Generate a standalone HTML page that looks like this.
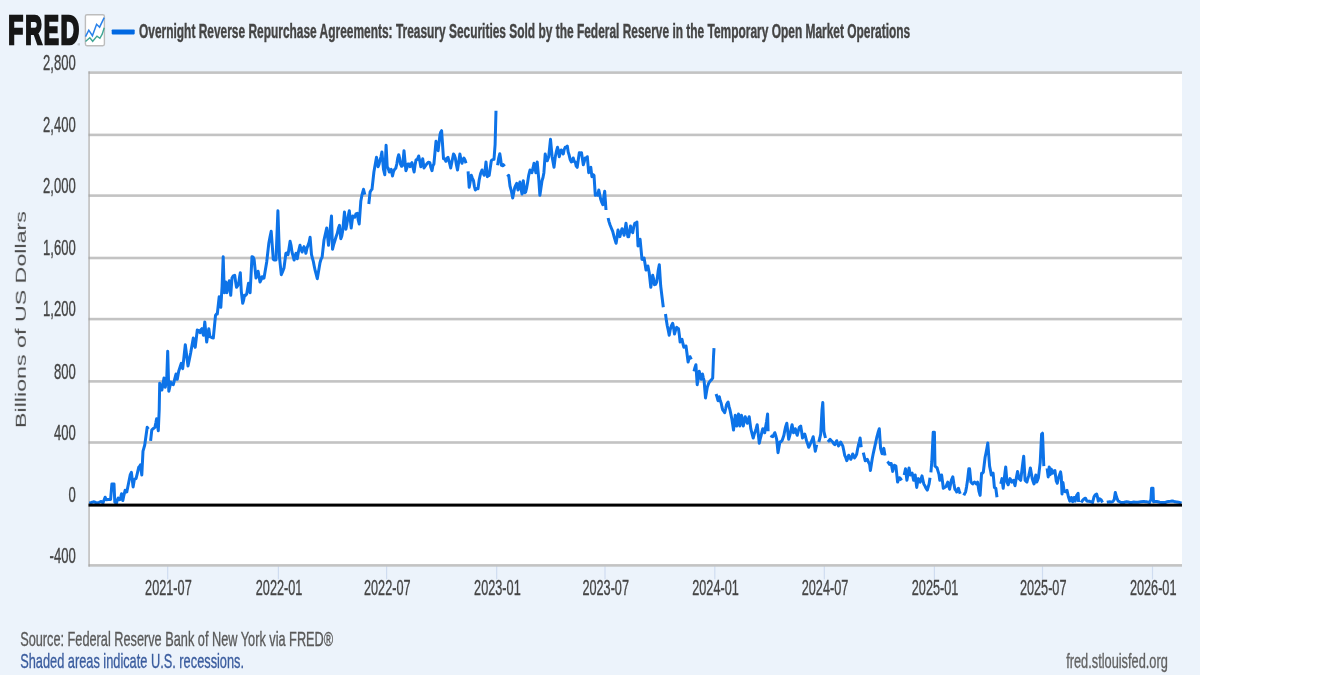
<!DOCTYPE html>
<html lang="en"><head><meta charset="utf-8"><title>FRED Graph</title>
<style>html,body{margin:0;padding:0;background:#fff;}svg{display:block}text{font-family:"Liberation Sans",Arial,sans-serif;}</style>
</head><body>
<svg width="1320" height="675" viewBox="0 0 1320 675">
<rect x="0" y="0" width="1200" height="675" fill="#ecf3fb"/>
<defs><filter id="soft" x="0" y="0" width="1320" height="675" filterUnits="userSpaceOnUse"><feGaussianBlur stdDeviation="0.4"/></filter></defs>
<g filter="url(#soft)">
<rect x="88.5" y="72.6" width="1093.5" height="492.79999999999995" fill="#ffffff"/>
<rect x="167.1" y="566" width="1.2" height="13.3" fill="#cfdcf0"/>
<rect x="277.8" y="566" width="1.2" height="13.3" fill="#cfdcf0"/>
<rect x="386.0" y="566" width="1.2" height="13.3" fill="#cfdcf0"/>
<rect x="496.1" y="566" width="1.2" height="13.3" fill="#cfdcf0"/>
<rect x="604.4" y="566" width="1.2" height="13.3" fill="#cfdcf0"/>
<rect x="714.2" y="566" width="1.2" height="13.3" fill="#cfdcf0"/>
<rect x="823.7" y="566" width="1.2" height="13.3" fill="#cfdcf0"/>
<rect x="933.8" y="566" width="1.2" height="13.3" fill="#cfdcf0"/>
<rect x="1041.9" y="566" width="1.2" height="13.3" fill="#cfdcf0"/>
<rect x="1151.9" y="566" width="1.2" height="13.3" fill="#cfdcf0"/>
<rect x="88.5" y="71.3" width="1093.5" height="2.6" fill="#c3c3c3"/>
<rect x="88.5" y="133.6" width="1093.5" height="2.6" fill="#c3c3c3"/>
<rect x="88.5" y="194.3" width="1093.5" height="2.6" fill="#c3c3c3"/>
<rect x="88.5" y="256.7" width="1093.5" height="2.6" fill="#c3c3c3"/>
<rect x="88.5" y="317.8" width="1093.5" height="2.6" fill="#c3c3c3"/>
<rect x="88.5" y="380.1" width="1093.5" height="2.6" fill="#c3c3c3"/>
<rect x="88.5" y="441.2" width="1093.5" height="2.6" fill="#c3c3c3"/>
<rect x="88.5" y="564.1" width="1093.5" height="2.6" fill="#c3c3c3"/>
<rect x="88.5" y="71.4" width="1.1" height="495.2" fill="#a2a2a2"/>
<path d="M89.3 503.1 L91.4 502.5 L93.5 501.8 L95.2 502.3 L96.9 503.1 L99.1 502.3 L101.2 501.4 L102.1 502.0 L102.9 503.1 L104.0 500.2 L105.1 497.2 L106.3 499.7 L108.4 499.5 L110.6 499.4 L111.9 483.9 L113.0 484.0 L114.0 483.9 L114.8 502.3 L115.7 502.6 L116.5 503.1 L117.3 500.4 L118.2 498.0 L119.1 498.8 L119.9 499.7 L120.8 496.9 L121.6 493.7 L122.8 500.6 L123.9 495.3 L125.1 490.3 L125.9 491.0 L126.8 492.0 L130.2 475.0 L131.4 472.4 L133.1 486.9 L134.4 479.3 L135.2 479.0 L136.1 478.4 L137.4 473.1 L138.7 467.3 L139.6 466.4 L140.4 464.8 L141.8 475.0 L143.0 451.1 L143.8 448.4 L144.7 445.2 L147.2 427.3 L148.4 429.0 M150.6 440.9 L151.8 429.8 L153.4 428.5 L154.9 427.3 L155.8 423.0 L156.6 418.7 L157.4 424.8 L158.3 430.7 L159.2 410.0 L159.7 383.3 L160.8 386.3 L161.9 390.0 L162.9 384.3 L164.0 378.0 L165.3 387.3 L166.7 379.3 L167.7 351.3 L168.8 391.3 L169.8 387.0 L170.7 382.0 L172.0 384.1 L173.3 384.7 L174.7 379.1 L176.0 374.0 L177.3 379.3 L178.7 371.3 L180.0 367.2 L181.3 363.3 L182.7 368.7 L185.3 344.7 L188.0 366.0 L189.3 359.7 L190.7 352.7 L193.3 338.0 L194.2 343.1 L195.2 347.3 L197.3 330.0 L198.7 330.7 L200.0 332.7 L200.9 329.8 L201.9 328.7 L202.7 332.5 L203.5 335.3 L204.8 322.0 L206.7 342.0 L207.8 334.5 L208.8 328.7 L209.9 336.7 L211.6 337.5 L213.3 338.0 L215.5 315.3 L216.4 314.1 L217.3 314.0 L219.2 296.7 L220.0 302.1 L220.8 307.3 L222.1 286.0 L223.2 256.7 L224.3 292.7 L225.1 287.4 L225.9 282.0 L226.9 292.7 L228.1 286.5 L229.3 280.7 L230.7 295.3 L232.0 278.0 L233.3 275.9 L234.7 275.3 L235.6 281.6 L236.5 287.3 L237.6 285.8 L238.7 283.3 L239.5 277.5 L240.3 272.7 L241.3 291.3 L242.7 303.3 L243.6 300.3 L244.5 295.3 L245.6 295.4 L246.7 294.0 L247.6 288.4 L248.5 283.3 L249.3 288.5 L250.1 292.7 L252.0 256.7 L253.1 257.1 L254.1 259.3 L256.0 278.0 L257.1 274.9 L258.1 271.3 L259.1 276.8 L260.0 282.0 L261.1 279.8 L262.1 276.7 L263.1 278.3 L264.0 278.0 L266.7 262.0 L268.8 243.3 L270.0 237.0 L271.2 231.3 L273.3 259.3 L274.6 260.1 L276.0 259.3 L276.0 260.0 L277.9 210.7 L279.5 257.3 L281.3 274.7 L282.6 271.6 L284.0 268.0 L285.9 253.3 L286.9 252.8 L288.0 254.7 L289.1 247.7 L290.1 241.3 L291.1 245.6 L292.0 252.0 L293.1 256.2 L294.1 260.0 L295.1 256.3 L296.0 253.3 L297.3 258.7 L298.6 251.1 L300.0 245.3 L301.1 249.4 L302.1 252.0 L303.1 248.2 L304.0 246.7 L304.9 248.9 L305.9 253.3 L306.9 248.5 L308.0 245.3 L309.1 242.4 L310.1 237.3 L311.5 254.7 L312.4 258.1 L313.3 261.3 L314.2 266.0 L315.2 270.7 L316.2 274.4 L317.3 278.7 L320.0 262.7 L321.1 259.0 L322.1 257.3 L324.0 240.0 L325.4 233.9 L326.7 228.0 L328.5 245.3 L329.9 232.0 L331.5 216.0 L332.5 249.3 L333.6 244.8 L334.7 241.3 L336.0 237.0 L337.3 233.3 L338.4 228.3 L339.5 225.3 L340.8 238.7 L341.8 235.9 L342.7 230.7 L344.5 212.0 L345.9 229.3 L346.9 224.1 L348.0 217.3 L349.3 210.7 L351.2 228.0 L352.0 221.8 L352.8 216.0 L353.8 216.8 L354.7 217.3 L356.0 213.9 L357.3 213.3 L358.2 219.9 L359.2 224.0 L360.8 201.3 L362.1 194.3 L363.5 189.3 L364.8 194.7 M368.8 204.0 L370.1 192.0 L371.1 190.2 L372.0 189.3 L373.9 172.0 L376.5 157.3 L377.3 162.8 L378.1 166.7 L379.1 164.1 L380.0 160.0 L380.9 157.1 L381.9 152.0 L383.5 169.3 L384.8 174.7 L386.1 145.3 L387.2 166.7 L388.2 168.3 L389.3 172.0 L390.2 171.3 L391.2 169.3 L392.5 176.0 L393.6 171.2 L394.7 169.3 L395.8 168.2 L396.8 164.0 L397.8 157.8 L398.7 154.7 L399.6 158.2 L400.5 164.0 L401.6 166.3 L402.7 165.3 L404.0 150.7 L405.9 170.7 L406.9 167.9 L408.0 164.0 L409.1 163.9 L410.1 166.7 L411.1 163.9 L412.0 162.7 L413.1 167.8 L414.1 172.0 L415.1 164.9 L416.0 160.0 L417.4 159.4 L418.7 156.0 L419.8 161.1 L420.8 166.7 L421.8 163.9 L422.7 158.7 L424.0 168.0 L425.4 166.0 L426.7 164.0 L428.3 162.2 L429.9 162.7 L430.9 167.6 L432.0 170.7 L432.9 165.7 L433.9 164.0 L436.0 141.3 L437.1 147.0 L438.1 150.7 L440.0 134.7 L440.8 132.0 L441.6 130.7 L443.5 158.7 L444.7 158.8 L445.9 161.3 L446.9 158.4 L448.0 157.3 L449.4 162.5 L450.7 168.0 L453.5 154.0 L454.4 155.1 L455.3 158.0 L456.4 164.8 L457.5 170.0 L459.9 154.0 L460.9 159.4 L462.0 163.3 L462.9 159.9 L463.9 158.0 L464.9 159.7 L466.0 163.3 M468.1 171.3 L469.2 187.3 L470.2 181.8 L471.3 175.3 L472.4 178.3 L473.5 180.7 L474.4 186.5 L475.3 190.0 L476.6 188.5 L478.0 188.7 L479.3 179.3 L480.6 173.5 L482.0 170.0 L483.1 172.8 L484.1 175.3 L485.1 170.2 L486.0 162.0 L487.3 176.7 L488.2 175.8 L489.2 175.3 L491.3 160.7 L492.6 159.6 L494.0 159.3 L495.1 144.7 L496.0 110.8 M497.6 165.2 L498.7 158.0 L499.8 153.7 L500.6 158.7 L501.4 165.2 L502.4 165.7 L503.3 164.7 L504.7 166.3 M507.3 176.7 L508.7 175.3 L510.0 186.0 L511.4 191.2 L512.7 198.0 L513.8 192.2 L514.8 187.3 L515.8 185.1 L516.7 183.3 L518.0 190.0 L519.0 185.6 L519.9 182.0 L521.0 188.9 L522.0 194.0 L523.3 180.7 L524.7 192.7 L525.6 192.0 L526.5 188.7 L527.6 182.4 L528.7 175.3 L530.0 170.0 L531.0 171.3 L531.9 172.7 L533.0 168.2 L534.0 163.3 L535.0 168.4 L535.9 172.7 L537.2 162.0 L538.8 179.3 L539.9 195.3 L542.0 180.7 L543.0 177.5 L543.9 172.7 L545.2 154.0 L546.2 158.7 L547.3 160.7 L548.7 156.7 L550.5 139.3 L552.1 156.7 L553.0 161.7 L554.0 167.3 L555.3 156.7 L556.4 151.5 L557.5 147.3 L558.4 150.5 L559.3 156.7 L560.2 153.1 L561.2 150.0 L562.2 151.8 L563.3 154.0 L564.2 149.5 L565.2 147.3 L566.2 147.2 L567.3 146.0 L568.2 152.1 L569.2 155.3 L570.2 159.6 L571.3 162.0 L572.2 161.5 L573.2 158.0 L574.2 161.4 L575.3 162.0 L576.2 166.1 L577.2 167.3 L579.3 152.7 L580.4 153.2 L581.5 152.7 L582.4 158.7 L583.3 164.7 L584.2 161.8 L585.2 158.0 L586.2 158.9 L587.3 156.7 L588.7 172.7 L589.8 168.6 L590.8 167.3 L591.9 176.7 L593.0 174.5 L594.0 175.3 L595.3 195.3 L596.4 194.7 L597.5 195.3 L598.8 190.0 L599.8 195.0 L600.7 199.3 L601.8 202.4 L602.8 204.7 L603.8 196.9 L604.7 191.3 L606.0 210.0 M608.1 218.0 L609.0 221.6 L610.0 224.7 L611.4 228.2 L612.7 231.3 L614.4 237.9 L616.1 243.3 L617.0 237.7 L618.0 230.0 L619.0 234.2 L619.9 236.7 L621.0 232.1 L622.0 228.7 L623.0 230.9 L624.1 235.3 L625.0 230.0 L626.0 223.3 L627.0 231.2 L627.9 236.7 L628.7 236.7 L629.6 231.6 L630.5 226.0 L631.6 230.5 L632.7 232.7 L633.8 226.7 L634.8 223.3 L635.8 223.3 L636.9 222.0 L638.0 246.0 L639.0 243.0 L640.1 239.3 L642.0 259.3 L643.0 259.5 L644.1 258.0 L645.0 263.6 L646.0 270.0 L647.0 268.7 L647.9 266.0 L649.2 272.7 L650.8 287.3 L651.8 280.7 L652.7 275.3 L653.6 278.9 L654.5 284.7 L655.6 284.3 L656.7 282.0 L657.5 276.4 L658.3 270.0 L659.3 264.7 L660.7 286.0 L662.0 296.7 L663.3 307.3 M665.5 314.0 L666.4 320.6 L667.3 326.0 L668.2 329.9 L669.2 335.3 L670.2 329.8 L671.3 326.0 L672.7 323.3 L673.6 327.7 L674.5 334.0 L675.6 330.2 L676.7 327.3 L677.6 328.3 L678.5 328.7 L679.3 334.6 L680.1 342.0 L681.0 340.6 L682.0 339.3 L683.0 344.0 L683.9 347.3 L685.0 346.2 L686.0 346.0 L688.1 362.0 L689.0 358.6 L690.0 356.7 L691.3 359.3 M694.0 371.3 L695.0 367.4 L695.9 364.7 L697.2 384.7 L698.2 378.4 L699.3 371.3 L700.2 376.0 L701.2 379.3 L702.5 374.0 L703.3 377.8 L704.1 380.7 L705.5 398.0 L706.4 392.6 L707.3 387.3 L708.7 383.3 L709.6 381.7 L710.5 380.7 L711.6 379.7 L712.7 378.0 L713.5 356.7 L714.0 348.1 M716.1 394.0 L717.0 396.9 L718.0 400.7 L719.3 396.7 L720.2 400.5 L721.2 403.3 L722.0 407.3 L722.8 410.0 L723.8 411.2 L724.7 412.7 L725.6 409.0 L726.5 404.7 L727.3 403.2 L728.1 402.0 L729.0 406.4 L730.0 410.0 L731.0 414.9 L731.9 419.3 L732.7 424.6 L733.5 430.0 L735.3 415.3 L736.7 426.0 L737.6 419.5 L738.5 414.0 L739.9 426.0 L740.7 421.1 L741.5 415.3 L742.4 421.1 L743.3 426.0 L744.2 421.1 L745.2 416.7 L746.2 419.7 L747.3 423.3 L748.2 420.3 L749.2 416.7 L750.0 422.6 L750.8 428.7 L752.0 433.5 L753.2 438.0 L754.2 434.3 L755.3 431.3 L756.2 428.5 L757.2 424.7 L759.3 443.3 L760.2 438.9 L761.2 435.3 L762.0 431.6 L762.8 428.7 L763.8 431.0 L764.7 432.7 L765.6 427.1 L766.5 422.0 L767.6 414.0 L768.1 431.3 M770.8 435.3 L771.8 436.4 L772.7 436.7 L773.8 434.7 L774.8 432.7 L775.8 435.8 L776.7 439.3 L778.0 452.7 L779.0 447.0 L779.9 442.0 L781.0 441.6 L782.0 440.7 L783.0 437.9 L783.9 435.3 L784.7 431.1 L785.5 427.3 L786.8 423.3 L788.7 439.3 L789.6 436.2 L790.5 432.7 L791.3 428.2 L792.1 424.7 L793.5 432.7 L794.4 431.1 L795.3 428.7 L796.2 432.4 L797.2 435.3 L798.2 431.4 L799.3 427.3 L800.7 426.0 L801.6 431.6 L802.5 438.0 L803.6 436.3 L804.7 434.0 L805.6 437.0 L806.5 440.7 L807.6 443.8 L808.7 447.3 L809.6 445.6 L810.5 443.3 L811.9 440.4 L813.2 436.7 L815.3 451.3 L816.7 444.7 M818.8 442.0 L819.8 438.2 L820.7 434.0 L822.0 410.0 L822.8 402.5 L823.9 431.3 L824.7 434.8 L825.5 438.0 M827.9 442.0 L829.0 440.6 L830.0 439.3 L831.4 440.8 L832.7 442.0 L833.8 443.8 L834.8 444.7 L835.8 442.5 L836.7 440.7 L837.6 443.4 L838.5 446.0 L839.6 444.3 L840.7 442.0 L841.8 444.3 L842.8 446.0 L843.8 450.7 L844.7 455.3 L845.8 457.7 L846.8 460.7 L847.8 458.2 L848.7 455.3 L849.8 457.3 L850.8 459.3 L851.8 457.1 L852.7 454.0 L853.6 455.9 L854.5 458.0 L855.6 456.4 L856.7 454.0 L857.6 449.1 L858.5 444.7 L859.3 441.8 L860.1 438.0 L861.2 447.3 M863.3 452.7 L864.2 456.3 L865.2 460.7 L866.2 460.4 L867.3 459.3 L868.7 462.6 L869.6 464.3 L870.4 470.6 L871.3 464.8 L872.2 459.0 L873.1 454.2 L874.0 450.1 L875.4 443.8 L876.7 437.7 L878.0 432.8 L879.3 428.8 L880.6 448.3 L882.0 453.7 L882.9 450.8 L883.8 448.3 L885.0 455.4 M887.3 461.7 L888.4 462.7 L889.5 464.3 L890.4 463.5 L891.2 463.4 L892.7 471.4 L893.5 468.0 L894.4 465.2 L895.9 466.1 L897.6 482.1 L898.5 480.0 L899.4 477.7 L900.5 478.7 L901.6 480.3 M904.2 475.0 L905.5 468.8 L906.9 480.3 L908.0 473.9 L909.0 467.9 L910.4 475.0 L911.3 474.0 L912.2 473.2 L913.6 480.3 L914.4 477.9 L915.2 475.0 L916.7 487.4 L917.5 482.7 L918.4 478.6 L919.3 480.3 L920.2 482.1 L921.1 478.9 L922.0 475.9 L922.9 480.0 L923.8 483.9 L924.7 485.4 L925.6 487.4 L926.5 488.9 L927.3 490.1 L928.2 487.0 L929.1 483.9 L930.0 477.7 M930.9 472.3 L931.8 461.7 L933.2 432.3 L934.4 432.3 L935.0 466.1 L936.0 467.0 L937.1 467.9 L938.0 471.1 L938.9 474.1 L939.8 480.3 L940.7 477.3 L941.6 475.0 L942.5 481.5 L943.3 488.3 L944.6 487.5 L946.0 486.6 L946.9 484.3 L947.8 482.1 L948.7 485.9 L949.6 489.2 L950.5 484.6 L951.3 480.3 L952.8 476.8 L953.8 483.3 L954.9 489.2 L955.8 490.3 L956.7 491.9 L957.5 490.0 L958.4 488.3 L959.3 491.2 L960.2 493.7 M963.8 495.4 L964.7 493.5 L965.6 491.9 L966.5 487.1 L967.3 482.1 L968.8 468.8 L969.6 468.8 L970.9 482.1 L971.8 483.1 L972.7 483.9 L973.5 482.9 L974.4 482.1 L975.3 482.7 L976.2 483.9 L977.6 482.1 L978.9 491.0 L980.1 495.4 L981.6 473.2 L982.5 473.1 L983.3 472.3 L985.1 457.2 L986.0 453.0 L986.9 448.3 L987.8 443.0 L989.6 466.1 L990.5 470.5 L991.3 475.0 L992.2 474.3 L993.1 473.2 L994.4 487.4 L995.8 488.3 L997.0 497.2 M1000.8 483.9 L1002.0 478.6 L1003.2 488.3 L1004.7 475.0 L1005.7 467.0 L1007.0 482.1 L1008.2 484.8 L1009.1 481.7 L1010.0 478.6 L1010.9 480.1 L1011.8 482.1 L1012.7 481.4 L1013.6 480.3 L1015.0 485.7 L1016.2 478.6 L1017.6 471.4 L1018.9 478.6 L1019.8 479.2 L1020.7 480.3 L1022.4 466.1 L1023.7 456.3 L1025.1 480.3 L1026.0 481.4 L1026.9 482.1 L1027.8 478.7 L1028.7 475.9 L1029.6 471.7 L1030.4 467.9 L1031.3 473.2 L1032.2 478.6 L1033.1 481.5 L1034.0 483.9 L1034.9 479.1 L1035.8 475.0 L1036.7 482.1 L1037.6 480.1 L1038.4 477.7 L1040.2 462.6 L1041.6 434.1 L1042.5 433.2 L1043.8 466.1 M1047.1 468.4 L1048.2 476.9 L1049.2 466.9 L1050.2 474.8 L1051.3 469.1 L1052.5 473.3 L1053.5 471.2 L1054.9 470.5 L1056.3 481.2 L1057.3 483.3 L1058.4 478.3 L1059.6 474.8 L1060.6 471.9 L1061.3 476.9 L1062.0 494.0 L1063.0 482.6 L1064.1 491.1 L1065.6 491.8 L1067.0 490.4 L1068.4 496.8 L1069.8 501.1 L1071.3 497.5 L1072.7 501.8 L1074.1 497.5 L1075.2 501.1 L1076.7 495.4 L1078.1 493.3 L1078.6 501.8 M1081.2 502.5 L1082.6 500.4 L1084.1 498.9 L1085.5 498.2 L1086.9 501.1 L1088.0 501.3 L1089.0 501.1 L1090.1 501.5 L1091.2 501.8 L1092.6 502.5 L1094.0 496.8 L1095.4 494.7 L1096.6 494.0 L1097.6 497.5 L1098.3 501.1 L1099.7 498.9 L1101.1 499.7 L1102.5 502.5 M1106.8 502.2 L1108.2 501.9 L1109.7 501.8 L1111.1 502.0 L1112.5 501.8 L1113.3 500.9 L1114.2 499.7 L1115.3 492.5 L1116.5 496.8 L1117.3 499.2 L1118.2 501.1 L1119.6 501.7 L1121.0 502.5 L1122.5 502.4 L1123.9 502.5 L1125.3 502.0 L1126.7 501.8 L1128.2 501.9 L1129.6 502.5 L1131.7 502.4 L1133.8 502.1 L1135.9 502.2 L1138.1 502.2 L1140.9 501.8 L1143.8 501.4 L1145.2 501.8 L1146.6 501.8 L1148.0 502.1 L1149.5 502.5 L1150.9 499.7 L1151.6 488.3 L1153.0 488.3 L1153.5 501.8 L1154.3 501.4 L1155.2 501.4 L1156.6 501.5 L1158.0 501.8 L1159.8 502.2 L1161.6 502.5 L1163.3 502.4 L1165.1 502.5 L1166.9 501.8 L1168.7 501.4 L1170.5 501.3 L1172.2 501.1 L1173.7 501.3 L1175.1 501.8 L1176.8 501.9 L1178.6 502.2 L1180.0 502.6 L1181.5 503.2" fill="none" stroke="#0d73e8" stroke-width="3.0" stroke-linejoin="round" stroke-linecap="butt"/>
<rect x="88.5" y="503.6" width="1093.5" height="3" fill="#000000"/>
<text transform="translate(43.04 69.90) scale(0.6179 1)" font-size="21.20" font-weight="normal" fill="#444444" stroke="#444444" stroke-width="0.35">2,800</text>
<text transform="translate(43.04 132.20) scale(0.6179 1)" font-size="21.20" font-weight="normal" fill="#444444" stroke="#444444" stroke-width="0.35">2,400</text>
<text transform="translate(43.04 192.90) scale(0.6179 1)" font-size="21.20" font-weight="normal" fill="#444444" stroke="#444444" stroke-width="0.35">2,000</text>
<text transform="translate(43.04 255.30) scale(0.6179 1)" font-size="21.20" font-weight="normal" fill="#444444" stroke="#444444" stroke-width="0.35">1,600</text>
<text transform="translate(43.04 316.40) scale(0.6179 1)" font-size="21.20" font-weight="normal" fill="#444444" stroke="#444444" stroke-width="0.35">1,200</text>
<text transform="translate(54.05 378.70) scale(0.6179 1)" font-size="21.20" font-weight="normal" fill="#444444" stroke="#444444" stroke-width="0.35">800</text>
<text transform="translate(54.05 439.80) scale(0.6179 1)" font-size="21.20" font-weight="normal" fill="#444444" stroke="#444444" stroke-width="0.35">400</text>
<text transform="translate(68.59 502.40) scale(0.6179 1)" font-size="21.20" font-weight="normal" fill="#444444" stroke="#444444" stroke-width="0.35">0</text>
<text transform="translate(49.59 562.70) scale(0.6179 1)" font-size="21.20" font-weight="normal" fill="#444444" stroke="#444444" stroke-width="0.35">-400</text>
<text transform="translate(145.10 595.00) scale(0.5991 1)" font-size="21.20" font-weight="normal" fill="#444444" stroke="#444444" stroke-width="0.35">2021-07</text>
<text transform="translate(255.80 595.00) scale(0.5991 1)" font-size="21.20" font-weight="normal" fill="#444444" stroke="#444444" stroke-width="0.35">2022-01</text>
<text transform="translate(364.00 595.00) scale(0.5991 1)" font-size="21.20" font-weight="normal" fill="#444444" stroke="#444444" stroke-width="0.35">2022-07</text>
<text transform="translate(474.10 595.00) scale(0.5991 1)" font-size="21.20" font-weight="normal" fill="#444444" stroke="#444444" stroke-width="0.35">2023-01</text>
<text transform="translate(582.40 595.00) scale(0.5991 1)" font-size="21.20" font-weight="normal" fill="#444444" stroke="#444444" stroke-width="0.35">2023-07</text>
<text transform="translate(692.20 595.00) scale(0.5991 1)" font-size="21.20" font-weight="normal" fill="#444444" stroke="#444444" stroke-width="0.35">2024-01</text>
<text transform="translate(801.70 595.00) scale(0.5991 1)" font-size="21.20" font-weight="normal" fill="#444444" stroke="#444444" stroke-width="0.35">2024-07</text>
<text transform="translate(911.80 595.00) scale(0.5991 1)" font-size="21.20" font-weight="normal" fill="#444444" stroke="#444444" stroke-width="0.35">2025-01</text>
<text transform="translate(1019.90 595.00) scale(0.5991 1)" font-size="21.20" font-weight="normal" fill="#444444" stroke="#444444" stroke-width="0.35">2025-07</text>
<text transform="translate(1129.90 595.00) scale(0.5991 1)" font-size="21.20" font-weight="normal" fill="#444444" stroke="#444444" stroke-width="0.35">2026-01</text>
<text transform="translate(139.02 37.50) scale(0.5724 1)" font-size="20.86" font-weight="bold" fill="#444444" stroke="#444444" stroke-width="0.45">Overnight Reverse Repurchase Agreements: Treasury Securities Sold by the Federal Reserve in the Temporary Open Market Operations</text>
<text transform="translate(20.16 645.80) scale(0.6565 1)" font-size="19.42" font-weight="normal" fill="#5a5a5a" stroke="#5a5a5a" stroke-width="0.35">Source: Federal Reserve Bank of New York via FRED®</text>
<text transform="translate(20.16 668.20) scale(0.6353 1)" font-size="20.14" font-weight="normal" fill="#3a5c9e" stroke="#3a5c9e" stroke-width="0.35">Shaded areas indicate U.S. recessions.</text>
<text transform="translate(1066.17 667.60) scale(0.6442 1)" font-size="19.86" font-weight="normal" fill="#626262" stroke="#626262" stroke-width="0.35">fred.stlouisfed.org</text>
<text transform="translate(25.8 428.06) rotate(-90) scale(1.4949 1)" font-size="15.56" fill="#4a4a4a">Billions of US Dollars</text>
<rect x="111.7" y="29.4" width="23" height="5" rx="0.8" fill="#0668e2"/>
<text transform="translate(0 44.00) scale(0.6075 1)" font-size="40.0" font-weight="bold" fill="#141414" stroke="#141414" stroke-width="2.6" stroke-linejoin="miter"><tspan x="13.78" textLength="24.68" lengthAdjust="spacingAndGlyphs">F</tspan><tspan x="41.41" textLength="27.78" lengthAdjust="spacingAndGlyphs">R</tspan><tspan x="72.10" textLength="24.94" lengthAdjust="spacingAndGlyphs">E</tspan><tspan x="99.71" textLength="30.83" lengthAdjust="spacingAndGlyphs">D</tspan></text>
<text x="77.4" y="45.6" font-size="3.4" fill="#777">®</text>
<rect x="85.4" y="14.7" width="19" height="31" rx="1.6" ry="1.6" fill="#ffffff" stroke="#bdbdbd" stroke-width="1.4"/>
<path d="M85.5 36.7 L88.8 30.2 L92.4 35.7 L96.6 24.3 L99.6 27.2 L104.2 17.7" fill="none" stroke="#2a82ea" stroke-width="1.55" stroke-linejoin="miter"/>
<path d="M85.5 41.6 L89.8 37.7 L92.7 41.3 L97 36.1 L99.9 38.3 L102.2 34.1 L104.2 27.8" fill="none" stroke="#3fa595" stroke-width="1.4" stroke-linejoin="miter"/>
</g>
</svg>
</body></html>
